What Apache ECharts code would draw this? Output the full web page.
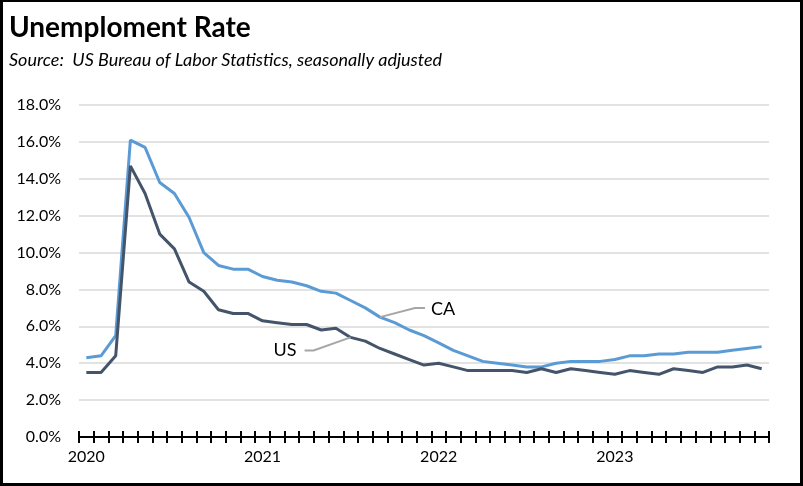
<!DOCTYPE html>
<html>
<head>
<meta charset="utf-8">
<script src="https://cdn.jsdelivr.net/npm/echarts@6/dist/echarts.min.js"></script>
<style>
  html, body { margin: 0; padding: 0; background: #fff; }
  #frame { position: relative; width: 803px; height: 486px; box-sizing: border-box; border: 3px solid #000; border-top-width: 2px; background: #fff; }
  #chart { position: absolute; left: -3px; top: -2px; width: 803px; height: 486px; }
</style>
</head>
<body>
<div id="frame"><div id="chart"></div></div>
<script>
// Months Jan 2020 .. Nov 2023
const months = [
  '2020-01','2020-02','2020-03','2020-04','2020-05','2020-06','2020-07','2020-08','2020-09','2020-10','2020-11','2020-12',
  '2021-01','2021-02','2021-03','2021-04','2021-05','2021-06','2021-07','2021-08','2021-09','2021-10','2021-11','2021-12',
  '2022-01','2022-02','2022-03','2022-04','2022-05','2022-06','2022-07','2022-08','2022-09','2022-10','2022-11','2022-12',
  '2023-01','2023-02','2023-03','2023-04','2023-05','2023-06','2023-07','2023-08','2023-09','2023-10','2023-11'
];
const caRate = [
  4.3, 4.4, 5.5, 16.1, 15.7, 13.8, 13.2, 11.9, 10.0, 9.3, 9.1, 9.1,
  8.7, 8.5, 8.4, 8.2, 7.9, 7.8, 7.4, 7.0, 6.5, 6.2, 5.8, 5.5,
  5.1, 4.7, 4.4, 4.1, 4.0, 3.9, 3.8, 3.8, 4.0, 4.1, 4.1, 4.1,
  4.2, 4.4, 4.4, 4.5, 4.5, 4.6, 4.6, 4.6, 4.7, 4.8, 4.9
];
const usRate = [
  3.5, 3.5, 4.4, 14.7, 13.2, 11.0, 10.2, 8.4, 7.9, 6.9, 6.7, 6.7,
  6.3, 6.2, 6.1, 6.1, 5.8, 5.9, 5.4, 5.2, 4.8, 4.5, 4.2, 3.9,
  4.0, 3.8, 3.6, 3.6, 3.6, 3.6, 3.5, 3.7, 3.5, 3.7, 3.6, 3.5,
  3.4, 3.6, 3.5, 3.4, 3.7, 3.6, 3.5, 3.8, 3.8, 3.9, 3.7
];
const yTicks = [0, 2, 4, 6, 8, 10, 12, 14, 16, 18];
const titleText = 'Unemploment Rate';
const subtitleText = 'Source:  US Bureau of Labor Statistics, seasonally adjusted';

const FONT = 'Lato, "Open Sans", sans-serif';
const chart = echarts.init(document.getElementById('chart'), null, { renderer: 'canvas' });

const baseX = {
  type: 'category',
  data: months,
  boundaryGap: true,
  position: 'bottom',
  splitLine: { show: false }
};

chart.setOption({
  animation: false,
  backgroundColor: 'transparent',
  title: [
    { text: titleText, left: 4, top: 9, textStyle: { fontFamily: FONT, fontWeight: 'bold', fontSize: 28, color: '#000' } },
    { text: subtitleText, left: 4, top: 46, textStyle: { fontFamily: FONT, fontStyle: 'italic', fontWeight: 'normal', fontSize: 18, color: '#000' } }
  ],
  grid: { left: 79, right: 34, top: 105, bottom: 49, containLabel: false },
  xAxis: [
    Object.assign({}, baseX, {
      axisLine: { show: true, lineStyle: { color: '#000', width: 2 } },
      axisTick: { show: true, interval: 0, inside: false, length: 6, lineStyle: { color: '#000', width: 2 } },
      axisLabel: {
        interval: function (i) { return i % 12 === 0; },
        formatter: function (v) { return v.slice(0, 4); },
        fontFamily: FONT, fontSize: 16, color: '#000', margin: 12
      }
    }),
    Object.assign({}, baseX, {
      axisLine: { show: false },
      axisTick: { show: true, interval: 0, inside: true, length: 6, lineStyle: { color: '#000', width: 2 } },
      axisLabel: { show: false }
    })
  ],
  yAxis: {
    type: 'value',
    min: yTicks[0],
    max: yTicks[yTicks.length - 1],
    interval: 2,
    axisLine: { show: false },
    axisTick: { show: false },
    splitLine: { show: true, lineStyle: { color: '#D9D9D9', width: 1.5 } },
    axisLabel: {
      formatter: function (v) { return v.toFixed(1) + '%'; },
      fontFamily: FONT, fontSize: 16, color: '#000', margin: 18
    }
  },
  series: [
    { name: 'CA', type: 'line', data: caRate, symbol: 'none', lineStyle: { color: '#5B9BD5', width: 3 }, itemStyle: { color: '#5B9BD5' }, z: 3 },
    { name: 'US', type: 'line', data: usRate, symbol: 'none', lineStyle: { color: '#44546A', width: 3 }, itemStyle: { color: '#44546A' }, z: 4 }
  ]
});

// Callouts anchored to data points
const caIdx = 20, usIdx = 18;
const pCA = chart.convertToPixel({ seriesIndex: 0 }, [caIdx, caRate[caIdx]]);
const pUS = chart.convertToPixel({ seriesIndex: 1 }, [usIdx, usRate[usIdx]]);
const lineStyle = { stroke: '#A6A6A6', lineWidth: 2, fill: null };
chart.setOption({
  graphic: [
    { type: 'polyline', z: 10, shape: { points: [[pCA[0], pCA[1]], [pCA[0] + 35, pCA[1] - 9], [pCA[0] + 45, pCA[1] - 9]] }, style: lineStyle },
    { type: 'text', z: 10, x: pCA[0] + 51, y: pCA[1] - 8, style: { text: 'CA', font: '18px ' + FONT, fill: '#000', textVerticalAlign: 'middle', textAlign: 'left' } },
    { type: 'polyline', z: 10, shape: { points: [[pUS[0], pUS[1]], [pUS[0] - 37, pUS[1] + 13], [pUS[0] - 46, pUS[1] + 13]] }, style: lineStyle },
    { type: 'text', z: 10, x: pUS[0] - 54, y: pUS[1] + 13, style: { text: 'US', font: '18px ' + FONT, fill: '#000', textVerticalAlign: 'middle', textAlign: 'right' } }
  ]
});
</script>
</body>
</html>
